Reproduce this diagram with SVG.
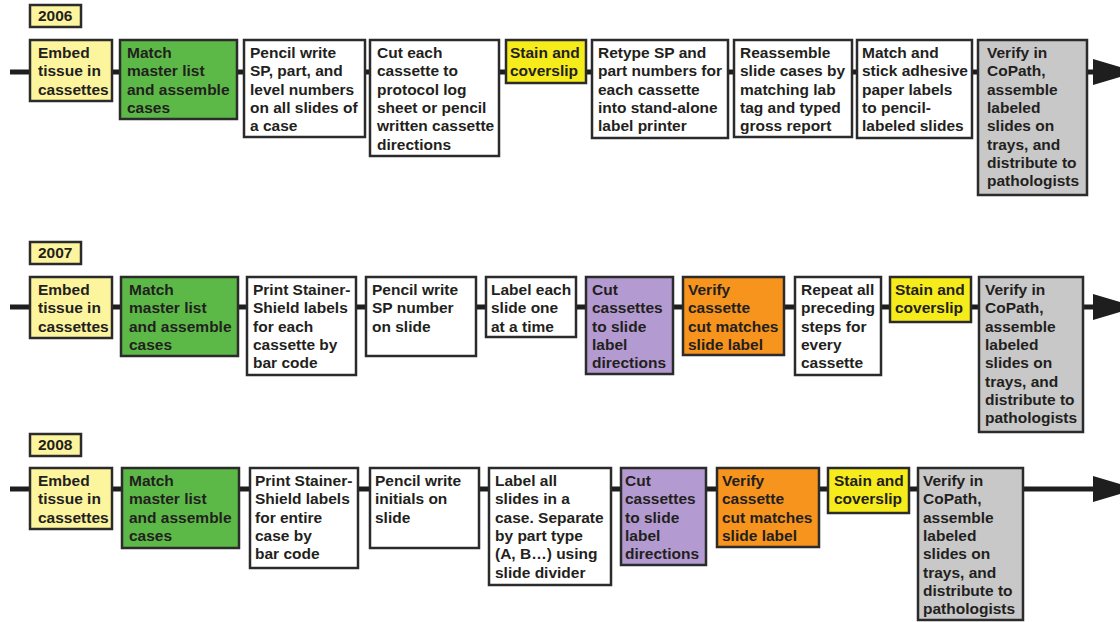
<svg xmlns="http://www.w3.org/2000/svg" width="1120" height="622" viewBox="0 0 1120 622">
  <style>
    .box { stroke: #2b2b2b; stroke-width: 2.5; }
    .white { fill: #ffffff; }
    .pale { fill: #fdf49e; }
    .green { fill: #5cb947; }
    .yellow { fill: #f7ec1b; }
    .purple { fill: #b39bd1; }
    .orange { fill: #f7941d; }
    .gray { fill: #c8c8c8; }
    text { font-family: "Liberation Sans", Arial, sans-serif; font-weight: bold; font-size: 15.5px; fill: #231f20; }
    .wire { stroke: #1e1e1e; stroke-width: 5; fill: none; }
    .head { fill: #1e1e1e; }
  </style>

  <rect width="1120" height="622" fill="#ffffff"/>

  <!-- Year labels -->
  <g id="year-2006"><rect class="box pale" x="30" y="5" width="51" height="22"/><text x="38" y="21">2006</text></g>
  <g id="year-2007"><rect class="box pale" x="30" y="242" width="51" height="22"/><text x="38" y="258">2007</text></g>
  <g id="year-2008"><rect class="box pale" x="30" y="434" width="51" height="22"/><text x="38" y="450">2008</text></g>

  <!-- Connectors -->
  <g id="connectors">
    <!-- 2006 row -->
    <path class="wire" d="M10 72H30 M112 72H120 M237 72H244 M365 72H370 M499 72H506 M586 72H592 M728 72H734 M852 72H857 M972 72H978 M1087 72H1096"/>
    <polygon class="head" points="1093,59 1137,72 1093,85"/>
    <!-- 2007 row -->
    <path class="wire" d="M10 307H30 M112 307H121 M238 307H247 M356 307H366 M476 307H486 M576 307H586 M673 307H683 M784 307H795 M881 307H890 M971 307H979 M1083 307H1096"/>
    <polygon class="head" points="1093,294 1137,307 1093,320"/>
    <!-- 2008 row -->
    <path class="wire" d="M10 489H30 M112 489H122 M239 489H250 M358 489H370 M479 489H489 M611 489H621 M706 489H717 M819 489H828 M909 489H918 M1023 489H1096"/>
    <polygon class="head" points="1093,476 1137,489 1093,502"/>
  </g>

  <!-- 2006 workflow -->
  <g id="r1-embed"><rect class="box pale" x="30" y="40" width="82" height="61"/>
    <text x="38" y="58">Embed</text><text x="38" y="76.3">tissue in</text><text x="38" y="94.6">cassettes</text></g>
  <g id="r1-match"><rect class="box green" x="120" y="40" width="117" height="79"/>
    <text x="127" y="58">Match</text><text x="127" y="76.3">master list</text><text x="127" y="94.6">and assemble</text><text x="127" y="112.9">cases</text></g>
  <g id="r1-pencil"><rect class="box white" x="244" y="40" width="121" height="97"/>
    <text x="250" y="58">Pencil write</text><text x="250" y="76.3">SP, part, and</text><text x="250" y="94.6">level numbers</text><text x="250" y="112.9">on all slides of</text><text x="250" y="131.2">a case</text></g>
  <g id="r1-cut"><rect class="box white" x="370" y="40" width="129" height="116"/>
    <text x="377" y="58">Cut each</text><text x="377" y="76.3">cassette to</text><text x="377" y="94.6">protocol log</text><text x="377" y="112.9">sheet or pencil</text><text x="377" y="131.2">written cassette</text><text x="377" y="149.5">directions</text></g>
  <g id="r1-stain"><rect class="box yellow" x="506" y="40" width="80" height="43"/>
    <text x="510" y="58">Stain and</text><text x="510" y="76.3">coverslip</text></g>
  <g id="r1-retype"><rect class="box white" x="592" y="40" width="136" height="98"/>
    <text x="598" y="58">Retype SP and</text><text x="598" y="76.3">part numbers for</text><text x="598" y="94.6">each cassette</text><text x="598" y="112.9">into stand-alone</text><text x="598" y="131.2">label printer</text></g>
  <g id="r1-reassemble"><rect class="box white" x="734" y="40" width="118" height="97"/>
    <text x="740" y="58">Reassemble</text><text x="740" y="76.3">slide cases by</text><text x="740" y="94.6">matching lab</text><text x="740" y="112.9">tag and typed</text><text x="740" y="131.2">gross report</text></g>
  <g id="r1-stick"><rect class="box white" x="857" y="40" width="115" height="98"/>
    <text x="862" y="58">Match and</text><text x="862" y="76.3">stick adhesive</text><text x="862" y="94.6">paper labels</text><text x="862" y="112.9">to pencil-</text><text x="862" y="131.2">labeled slides</text></g>
  <g id="r1-verify"><rect class="box gray" x="978" y="40" width="109" height="155"/>
    <text x="987" y="58">Verify in</text><text x="987" y="76.3">CoPath,</text><text x="987" y="94.6">assemble</text><text x="987" y="112.9">labeled</text><text x="987" y="131.2">slides on</text><text x="987" y="149.5">trays, and</text><text x="987" y="167.8">distribute to</text><text x="987" y="186.1">pathologists</text></g>

  <!-- 2007 workflow -->
  <g id="r2-embed"><rect class="box pale" x="30" y="277" width="82" height="61"/>
    <text x="38" y="295">Embed</text><text x="38" y="313.3">tissue in</text><text x="38" y="331.6">cassettes</text></g>
  <g id="r2-match"><rect class="box green" x="121" y="277" width="117" height="79"/>
    <text x="129" y="295">Match</text><text x="129" y="313.3">master list</text><text x="129" y="331.6">and assemble</text><text x="129" y="349.9">cases</text></g>
  <g id="r2-print"><rect class="box white" x="247" y="277" width="109" height="98"/>
    <text x="253" y="295">Print Stainer-</text><text x="253" y="313.3">Shield labels</text><text x="253" y="331.6">for each</text><text x="253" y="349.9">cassette by</text><text x="253" y="368.2">bar code</text></g>
  <g id="r2-pencil"><rect class="box white" x="366" y="277" width="110" height="79"/>
    <text x="372" y="295">Pencil write</text><text x="372" y="313.3">SP number</text><text x="372" y="331.6">on slide</text></g>
  <g id="r2-label"><rect class="box white" x="486" y="277" width="90" height="60"/>
    <text x="491" y="295">Label each</text><text x="491" y="313.3">slide one</text><text x="491" y="331.6">at a time</text></g>
  <g id="r2-cut"><rect class="box purple" x="586" y="277" width="87" height="97"/>
    <text x="592" y="295">Cut</text><text x="592" y="313.3">cassettes</text><text x="592" y="331.6">to slide</text><text x="592" y="349.9">label</text><text x="592" y="368.2">directions</text></g>
  <g id="r2-check"><rect class="box orange" x="683" y="277" width="101" height="78"/>
    <text x="688" y="295">Verify</text><text x="688" y="313.3">cassette</text><text x="688" y="331.6">cut matches</text><text x="688" y="349.9">slide label</text></g>
  <g id="r2-repeat"><rect class="box white" x="795" y="277" width="86" height="98"/>
    <text x="801" y="295">Repeat all</text><text x="801" y="313.3">preceding</text><text x="801" y="331.6">steps for</text><text x="801" y="349.9">every</text><text x="801" y="368.2">cassette</text></g>
  <g id="r2-stain"><rect class="box yellow" x="890" y="277" width="81" height="45"/>
    <text x="895" y="295">Stain and</text><text x="895" y="313.3">coverslip</text></g>
  <g id="r2-verify"><rect class="box gray" x="979" y="277" width="104" height="155"/>
    <text x="985" y="295">Verify in</text><text x="985" y="313.3">CoPath,</text><text x="985" y="331.6">assemble</text><text x="985" y="349.9">labeled</text><text x="985" y="368.2">slides on</text><text x="985" y="386.5">trays, and</text><text x="985" y="404.8">distribute to</text><text x="985" y="423.1">pathologists</text></g>

  <!-- 2008 workflow -->
  <g id="r3-embed"><rect class="box pale" x="30" y="468" width="82" height="61"/>
    <text x="38" y="486">Embed</text><text x="38" y="504.3">tissue in</text><text x="38" y="522.6">cassettes</text></g>
  <g id="r3-match"><rect class="box green" x="122" y="468" width="117" height="80"/>
    <text x="129" y="486">Match</text><text x="129" y="504.3">master list</text><text x="129" y="522.6">and assemble</text><text x="129" y="540.9">cases</text></g>
  <g id="r3-print"><rect class="box white" x="250" y="468" width="108" height="100"/>
    <text x="255" y="486">Print Stainer-</text><text x="255" y="504.3">Shield labels</text><text x="255" y="522.6">for entire</text><text x="255" y="540.9">case by</text><text x="255" y="559.2">bar code</text></g>
  <g id="r3-pencil"><rect class="box white" x="370" y="468" width="109" height="80"/>
    <text x="375" y="486">Pencil write</text><text x="375" y="504.3">initials on</text><text x="375" y="522.6">slide</text></g>
  <g id="r3-label"><rect class="box white" x="489" y="468" width="122" height="117"/>
    <text x="495" y="486">Label all</text><text x="495" y="504.3">slides in a</text><text x="495" y="522.6">case. Separate</text><text x="495" y="540.9">by part type</text><text x="495" y="559.2">(A, B…) using</text><text x="495" y="577.5">slide divider</text></g>
  <g id="r3-cut"><rect class="box purple" x="621" y="468" width="85" height="97"/>
    <text x="625" y="486">Cut</text><text x="625" y="504.3">cassettes</text><text x="625" y="522.6">to slide</text><text x="625" y="540.9">label</text><text x="625" y="559.2">directions</text></g>
  <g id="r3-check"><rect class="box orange" x="717" y="468" width="102" height="79"/>
    <text x="722" y="486">Verify</text><text x="722" y="504.3">cassette</text><text x="722" y="522.6">cut matches</text><text x="722" y="540.9">slide label</text></g>
  <g id="r3-stain"><rect class="box yellow" x="828" y="468" width="81" height="45"/>
    <text x="834" y="486">Stain and</text><text x="834" y="504.3">coverslip</text></g>
  <g id="r3-verify"><rect class="box gray" x="918" y="468" width="105" height="152"/>
    <text x="923" y="486">Verify in</text><text x="923" y="504.3">CoPath,</text><text x="923" y="522.6">assemble</text><text x="923" y="540.9">labeled</text><text x="923" y="559.2">slides on</text><text x="923" y="577.5">trays, and</text><text x="923" y="595.8">distribute to</text><text x="923" y="614.1">pathologists</text></g>
</svg>
